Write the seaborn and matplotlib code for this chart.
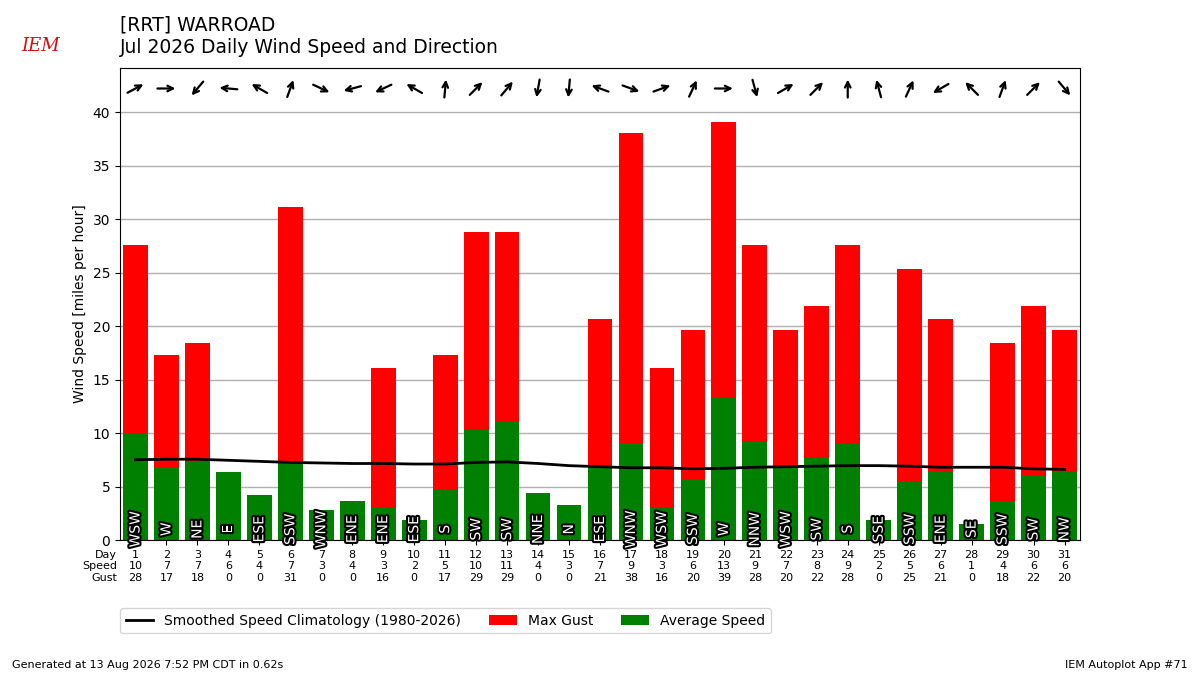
import seaborn as sns
import numpy as np
import pandas as pd
import matplotlib.pyplot as plt
import matplotlib.patheffects as pe
from matplotlib.transforms import ScaledTranslation

# Daily wind data, Warroad (RRT), July 2026
days = list(range(1, 32))
avg_speed = [9.9, 6.8, 7.4, 6.4, 4.2, 7.1, 2.8, 3.6, 3.1, 1.9, 4.7, 10.3, 11.0, 4.4, 3.3,
             7.0, 9.1, 3.1, 5.6, 13.3, 9.2, 6.8, 7.8, 9.0, 1.9, 5.4, 6.4, 1.5, 3.6, 6.0, 6.4]
max_gust = [27.6, 17.3, 18.4, 0, 0, 31.1, 0, 0, 16.1, 0, 17.3, 28.8, 28.8, 0, 0,
            20.7, 38.0, 16.1, 19.6, 39.1, 27.6, 19.6, 21.9, 27.6, 0, 25.3, 20.7, 0, 18.4, 21.9, 19.6]
speed_lbl = [10, 7, 7, 6, 4, 7, 3, 4, 3, 2, 5, 10, 11, 4, 3,
             7, 9, 3, 6, 13, 9, 7, 8, 9, 2, 5, 6, 1, 4, 6, 6]
gust_lbl = [28, 17, 18, 0, 0, 31, 0, 0, 16, 0, 17, 29, 29, 0, 0,
            21, 38, 16, 20, 39, 28, 20, 22, 28, 0, 25, 21, 0, 18, 22, 20]
dir_text = ['WSW', 'W', 'NE', 'E', 'ESE', 'SSW', 'WNW', 'ENE', 'ENE', 'ESE', 'S', 'SW', 'SW', 'NNE', 'N',
            'ESE', 'WNW', 'WSW', 'SSW', 'W', 'NNW', 'WSW', 'SW', 'S', 'SSE', 'SSW', 'ENE', 'SE', 'SSW', 'SW', 'NW']
# average direction the wind blows from (degrees)
dir_deg = [242, 270, 40, 95, 120, 200, 295, 75, 65, 120, 185, 225, 220, 10, 5,
           110, 290, 250, 205, 270, 345, 240, 225, 180, 165, 205, 60, 135, 200, 225, 320]
climo = [7.5, 7.55, 7.55, 7.45, 7.35, 7.25, 7.2, 7.15, 7.15, 7.1, 7.1, 7.25, 7.3, 7.15, 6.95,
         6.85, 6.75, 6.75, 6.65, 6.7, 6.8, 6.85, 6.9, 6.95, 6.95, 6.9, 6.8, 6.8, 6.8, 6.65, 6.6]

df = pd.DataFrame({'day': days, 'avg': avg_speed, 'gust': max_gust, 'climo': climo})

fig = plt.figure(figsize=(12, 6.75), dpi=100)
ax = fig.add_axes([0.1, 0.2, 0.8, 0.699])
ax.set_axisbelow(True)

sns.barplot(data=df, x='day', y='gust', native_scale=True, color='red', saturation=1,
            width=0.8, label='Max Gust', ax=ax)
sns.barplot(data=df, x='day', y='avg', native_scale=True, color='green', saturation=1,
            width=0.8, label='Average Speed', ax=ax)
sns.lineplot(data=df, x='day', y='climo', color='black', lw=2,
             label='Smoothed Speed Climatology (1980-2026)', ax=ax)

# direction text inside the bars
for d, t in zip(days, dir_text):
    ax.text(d, 1, t, rotation=90, ha='center', va='center', color='white', fontsize=10,
            path_effects=[pe.withStroke(linewidth=3, foreground='black')])

# direction arrows along the top
half = 9 / 100
for d, deg in zip(days, dir_deg):
    th = np.deg2rad(deg + 180)
    ux, uy = np.sin(th), np.cos(th)
    head = ax.transData + ScaledTranslation(ux * half, uy * half, fig.dpi_scale_trans)
    tail = ax.transData + ScaledTranslation(-ux * half, -uy * half, fig.dpi_scale_trans)
    ax.annotate('', xy=(d, 42.2), xycoords=head, xytext=(d, 42.2), textcoords=tail,
                arrowprops=dict(arrowstyle='->', lw=1.6, color='black', shrinkA=0, shrinkB=0))

ax.set_xlim(0.5, 31.5)
ax.set_ylim(0, 44.1)
ax.set_yticks(range(0, 45, 5))
ax.grid(axis='y', color='#b0b0b0', lw=1)
ax.set_xticks(days)
ax.set_xticklabels([f'{d}\n{s}\n{g}' for d, s, g in zip(days, speed_lbl, gust_lbl)], fontsize=8)
ax.set_xlabel('')
ax.set_ylabel('Wind Speed [miles per hour]', fontsize=10)
ax.annotate('Day\nSpeed\nGust', xy=(0, 0), xycoords='axes fraction', xytext=(-2, -7),
            textcoords='offset points', ha='right', va='top', fontsize=8, multialignment='right')

h, l = ax.get_legend_handles_labels()
order = [l.index('Smoothed Speed Climatology (1980-2026)'), l.index('Max Gust'), l.index('Average Speed')]
ax.legend([h[i] for i in order], [l[i] for i in order], ncol=3, fontsize=10,
          loc='upper left', bbox_to_anchor=(0.1, 0.099), bbox_transform=fig.transFigure,
          borderaxespad=0)

fig.text(0.1, 0.977, '[RRT] WARROAD\nJul 2026 Daily Wind Speed and Direction',
         fontsize=13.5, va='top', ha='left')
fig.text(0.018, 0.924, 'IEM', color='#d01010', fontsize=13, family='serif', style='italic')
fig.text(0.01, 0.01, 'Generated at 13 Aug 2026 7:52 PM CDT in 0.62s', fontsize=8)
fig.text(0.99, 0.01, 'IEM Autoplot App #71', fontsize=8, ha='right')

fig.savefig('out.png', dpi=100)
